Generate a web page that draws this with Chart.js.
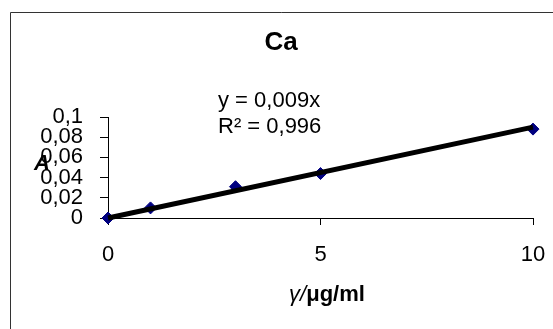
<!DOCTYPE html>
<html lang="en">
<head>
    <meta charset="UTF-8">
    <title>Ca calibration</title>
    <script src="https://cdn.jsdelivr.net/npm/chart.js@4.4.1/dist/chart.umd.min.js"></script>
    <style>
        html, body { margin: 0; padding: 0; background: #fff; }
        #wrap { width: 553px; height: 329px; }
    </style>
</head>
<body>
    <div id="wrap"><canvas id="chart"></canvas></div>
    <script>
        // Data
        const concentrations = [0, 1, 3, 5, 10];          // γ / µg/ml
        const absorbances = [0, 0.01, 0.031, 0.044, 0.088]; // A
        const trendX = [0, 10];
        const trendY = [0, 0.09];
        const equationText = 'y = 0,009x';
        const r2Text = 'R² = 0,996';

        const FONT = "Arial, 'Liberation Sans', sans-serif";

        const points = concentrations.map((x, i) => ({ x: x, y: absorbances[i] }));
        const trend = trendX.map((x, i) => ({ x: x, y: trendY[i] }));

        const comma = v => String(Math.round(v * 100) / 100).replace('.', ',');

        // frame, title and axis titles drawn by hand
        const decorations = {
            id: 'decorations',
            beforeDraw(chart) {
                const c = chart.ctx;
                c.save();
                c.fillStyle = '#fff';
                c.fillRect(0, 0, chart.width, chart.height);
                c.strokeStyle = '#333';
                c.lineWidth = 1;
                c.beginPath();
                c.moveTo(10.5, chart.height);
                c.lineTo(10.5, 12.5);
                c.lineTo(chart.width, 12.5);
                c.stroke();
                c.restore();
            },
            afterDraw(chart) {
                const c = chart.ctx;
                c.save();
                c.fillStyle = '#000';
                c.textBaseline = 'middle';

                c.font = 'bold 26px ' + FONT;
                c.textAlign = 'center';
                c.fillText('Ca', 281, 43);

                c.font = '22px ' + FONT;
                c.textAlign = 'left';
                c.fillText(equationText, 218, 101);
                c.fillText(r2Text, 218, 127);

                c.font = 'italic bold 22px ' + FONT;
                c.textAlign = 'center';
                c.fillText('A', 42, 164);

                // x axis title: italic gamma, bold units
                const part1 = 'γ/';
                const part2 = 'μg/ml';
                c.font = 'italic 22px ' + FONT;
                const w1 = c.measureText(part1).width;
                c.font = 'bold 22px ' + FONT;
                const w2 = c.measureText(part2).width;
                const x0 = 327 - (w1 + w2) / 2;
                c.textAlign = 'left';
                c.font = 'italic 22px ' + FONT;
                c.fillText(part1, x0, 295);
                c.font = 'bold 22px ' + FONT;
                c.fillText(part2, x0 + w1, 295);
                c.restore();
            }
        };

        new Chart(document.getElementById('chart'), {
            type: 'scatter',
            data: {
                datasets: [
                    {
                        label: 'trend',
                        type: 'line',
                        data: trend,
                        borderColor: '#000',
                        borderWidth: 5,
                        pointRadius: 0,
                        fill: false,
                        clip: false
                    },
                    {
                        label: 'Ca',
                        data: points,
                        pointStyle: 'rectRot',
                        pointRadius: 6,
                        backgroundColor: '#000080',
                        borderColor: '#000080',
                        borderWidth: 1,
                        clip: false
                    }
                ]
            },
            options: {
                responsive: true,
                maintainAspectRatio: false,
                animation: false,
                layout: { padding: { top: 117, right: 20, left: 0, bottom: 0 } },
                plugins: {
                    legend: { display: false },
                    title: { display: false },
                    tooltip: { enabled: false }
                },
                scales: {
                    x: {
                        type: 'linear',
                        min: 0,
                        max: 10,
                        afterFit(scale) {
                            scale.height = 111;
                            scale.paddingLeft = 0;
                            scale.paddingRight = 0;
                        },
                        ticks: {
                            stepSize: 5,
                            color: '#000',
                            padding: 17,
                            autoSkip: false,
                            maxRotation: 0,
                            font: { family: FONT, size: 22 }
                        },
                        grid: { drawOnChartArea: false, drawTicks: true, tickLength: 7, color: '#000' },
                        border: { display: true, color: '#000', width: 1 }
                    },
                    y: {
                        min: 0,
                        max: 0.1,
                        afterFit(scale) { scale.width = 108; },
                        ticks: {
                            stepSize: 0.02,
                            color: '#000',
                            padding: 17,
                            autoSkip: false,
                            font: { family: FONT, size: 22 },
                            callback: v => comma(v)
                        },
                        grid: { drawOnChartArea: false, drawTicks: true, tickLength: 8, color: '#000' },
                        border: { display: true, color: '#000', width: 1 }
                    }
                }
            },
            plugins: [decorations]
        });
    </script>
</body>
</html>
